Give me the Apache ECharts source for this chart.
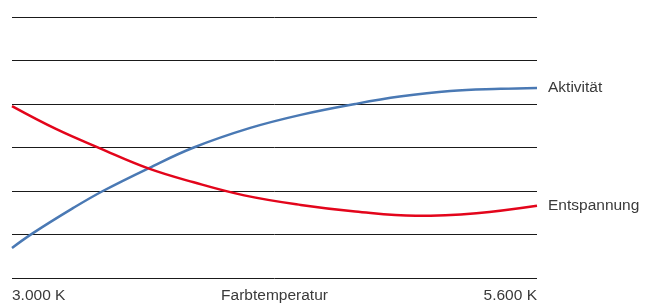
<!DOCTYPE html>
<html>
<head>
<meta charset="utf-8">
<script src="https://cdn.jsdelivr.net/npm/echarts@6/dist/echarts.min.js"></script>
<style>
  html, body { margin: 0; padding: 0; background: #fff; }
  #chart { width: 651px; height: 305px; }
</style>
</head>
<body>
<div id="chart"></div>
<script>
// Daten (Farbtemperatur in K, relative Stärke auf 0..6 Skala)
const seriesNames = ["Aktivität", "Entspannung"];
const aktivitaet = [
  [3000, 0.69], [3100, 1.02], [3300, 1.6], [3450, 2.0], [3675, 2.52],
  [3900, 3.0], [4180, 3.45], [4430, 3.75], [4700, 4.0], [4920, 4.17],
  [5170, 4.3], [5420, 4.35], [5600, 4.37]
];
const entspannung = [
  [3000, 3.95], [3220, 3.42], [3436, 2.98], [3675, 2.52], [3900, 2.2],
  [4150, 1.9], [4430, 1.68], [4700, 1.53], [5000, 1.43], [5300, 1.49],
  [5600, 1.66]
];
const tickLabels = { 3000: "3.000 K", 5600: "5.600 K" };
const axisTitle = "Farbtemperatur";

const textColor = "#3a3a3a";
const fontFamily = "Liberation Sans, Arial, sans-serif";
const fontSize = 15.5;

const chart = echarts.init(document.getElementById("chart"), null, { renderer: "canvas" });

chart.setOption({
  animation: false,
  backgroundColor: "#fff",
  grid: { left: 12, right: 114, top: 17, bottom: 27, containLabel: false, outerBoundsMode: "none" },
  xAxis: {
    type: "value",
    min: 3000,
    max: 5600,
    interval: 200,
    name: axisTitle,
    nameLocation: "middle",
    nameGap: 10,
    nameMoveOverlap: false,
    nameTextStyle: { color: textColor, fontSize, fontFamily, verticalAlign: "top" },
    axisLine: { show: false },
    axisTick: { show: false },
    splitLine: { show: false },
    axisLabel: {
      margin: 10,
      color: textColor,
      fontSize,
      fontFamily,
      alignMinLabel: "left",
      alignMaxLabel: "right",
      formatter: v => tickLabels[v] || ""
    }
  },
  yAxis: {
    type: "value",
    min: 0,
    max: 6,
    interval: 1,
    axisLine: { show: false },
    axisTick: { show: false },
    axisLabel: { show: false },
    splitLine: { lineStyle: { color: "#1a1a1a", width: 1 } }
  },
  series: [
    {
      name: seriesNames[0], type: "line", smooth: 0.4, showSymbol: false,
      data: aktivitaet,
      lineStyle: { color: "#4a79b4", width: 2.5 },
      endLabel: { show: true, formatter: "{a}", offset: [3, 0], color: textColor, fontSize, fontFamily }
    },
    {
      name: seriesNames[1], type: "line", smooth: 0.4, showSymbol: false,
      data: entspannung,
      lineStyle: { color: "#e3051b", width: 2.5 },
      endLabel: { show: true, formatter: "{a}", offset: [3, 0], color: textColor, fontSize, fontFamily }
    }
  ]
});
</script>
</body>
</html>
